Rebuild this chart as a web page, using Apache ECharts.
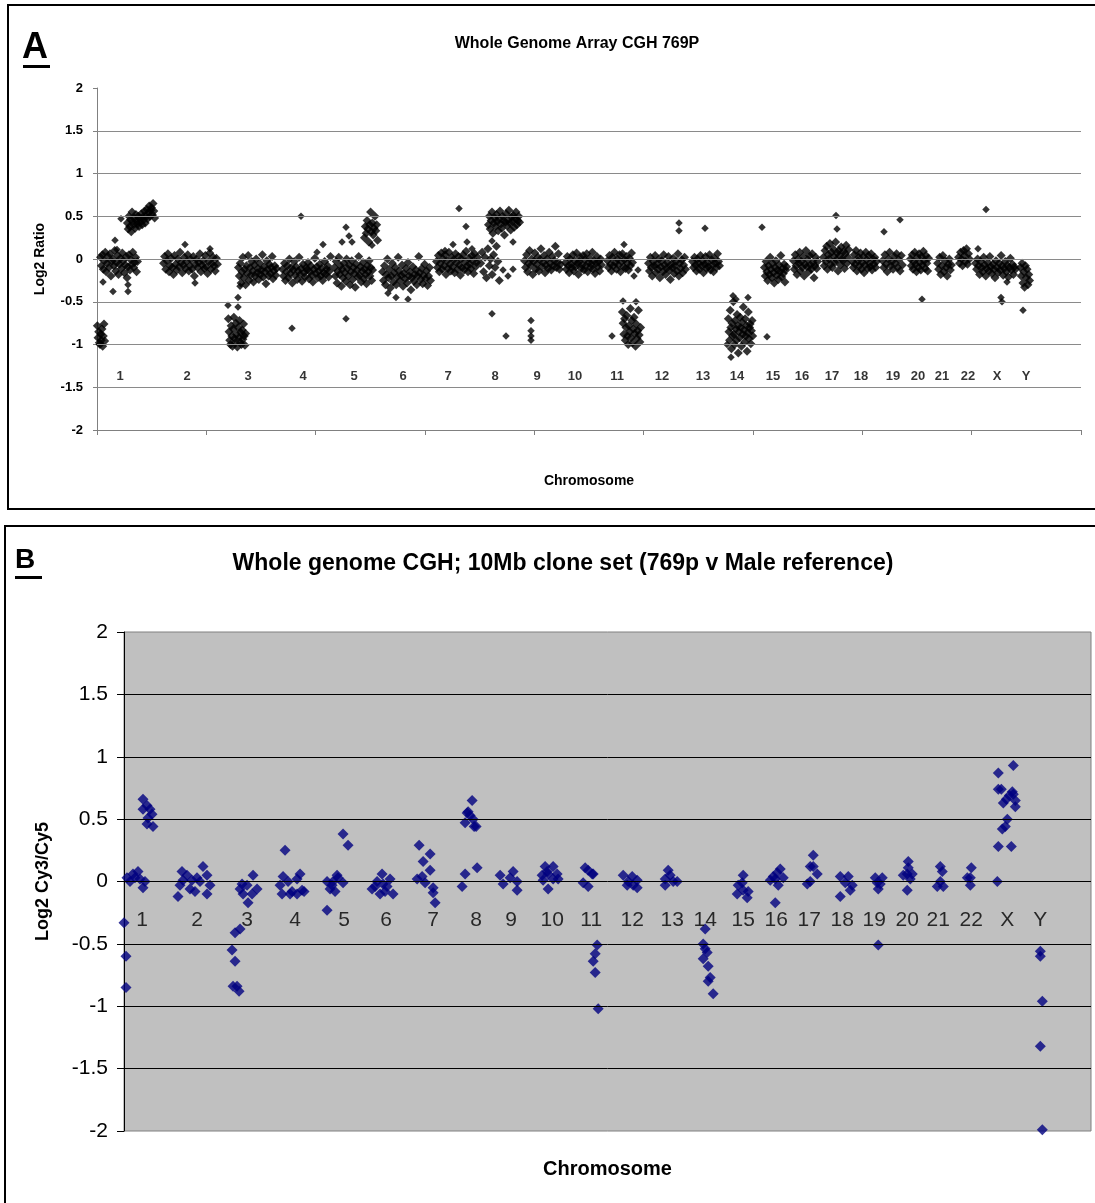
<!DOCTYPE html>
<html>
<head>
<meta charset="utf-8">
<title>Whole genome array CGH 769P</title>
<script src="https://cdn.jsdelivr.net/npm/echarts@6/dist/echarts.min.js"></script>
<style>
  html, body { margin: 0; padding: 0; background: #fff; }
  #chart { width: 1095px; height: 1203px; }
</style>
</head>
<body>
<div id="chart"></div>
<script>
// chromosome names and where their labels sit (genome position, Mb)
const chromNames = ['1','2','3','4','5','6','7','8','9','10','11','12','13','14','15','16','17','18','19','20','21','22','X','Y'];
const aLabelPos = [69,270,453,618,771,918,1053,1194,1320,1434,1560,1695,1818,1920,2028,2115,2205,2292,2388,2463,2535,2613,2700,2787];
const bLabelPos = [54,219,369,513,660,786,927,1056,1161,1284,1401,1524,1644,1743,1857,1956,2055,2154,2250,2349,2442,2541,2649,2748];
const aLabelRatio = -1.37;
const bLabelRatio = -0.31;
const gridLevels = [1.5, 1, 0.5, 0, -0.5, -1, -1.5];

// panel A: 1Mb array, clones listed in order along each segment (from..to, Mb)
const aSegFrom = [0, 9, 90, 198, 393, 423, 555, 711, 801, 855, 1017, 1149, 1173, 1281, 1404, 1530, 1575, 1653, 1785, 1893, 2001, 2088, 2178, 2265, 2355, 2439, 2520, 2583, 2634, 2769];
const aSegTo = [24, 123, 174, 363, 447, 540, 702, 828, 843, 1002, 1143, 1209, 1269, 1392, 1515, 1608, 1632, 1767, 1869, 1968, 2070, 2163, 2256, 2340, 2418, 2496, 2565, 2619, 2757, 2799];
const aSegRatios = [
  [-0.78,-0.92,-0.85,-0.98,-1.0,-0.88,-0.95,-0.82,-1.02,-0.9,-0.76,-0.96],
  [0.02,-0.08,0.05,-0.12,-0.02,0.08,-0.15,-0.05,0.03,-0.1,0.06,-0.2,-0.03,0.0,-0.08,0.1,-0.14,-0.04,0.04,-0.18,-0.06,0.01,-0.11,0.07,-0.02,-0.16,-0.07,0.03,-0.22,-0.09,0.05,-0.13,-0.01,-0.06,0.08,-0.1,-0.04,0.02,-0.15,-0.03],
  [0.42,0.35,0.5,0.38,0.46,0.32,0.55,0.44,0.4,0.48,0.36,0.52,0.45,0.41,0.5,0.38,0.47,0.43,0.53,0.4,0.49,0.46,0.56,0.42,0.5,0.58,0.47,0.54,0.62,0.5,0.57,0.6,0.52,0.65,0.56,0.48],
  [-0.05,0.03,-0.12,-0.02,0.06,-0.15,-0.08,0.01,-0.1,-0.18,0.04,-0.06,-0.13,0.0,-0.09,0.08,-0.04,-0.16,-0.07,0.02,-0.11,-0.03,0.05,-0.14,-0.08,-0.01,-0.12,0.03,-0.2,-0.06,0.0,-0.1,-0.04,0.06,-0.15,-0.07,-0.02,-0.11,0.04,-0.09,-0.17,-0.03,0.07,-0.12,-0.05,0.02,-0.08,-0.14,0.01,-0.06],
  [-0.7,-0.85,-0.95,-1.0,-0.78,-0.9,-1.02,-0.82,-0.68,-0.93,-0.98,-0.75,-0.88,-1.03,-0.8,-0.92,-0.72,-0.97,-0.86,-1.0,-0.83,-0.94,-0.76,-0.9,-1.01,-0.87],
  [-0.1,-0.2,-0.05,-0.28,-0.15,0.02,-0.22,-0.12,-0.3,-0.08,-0.17,0.04,-0.25,-0.1,-0.19,-0.03,-0.14,-0.27,-0.07,-0.2,0.0,-0.16,-0.11,-0.24,-0.05,-0.18,-0.13,0.05,-0.21,-0.09,-0.15,-0.29,-0.02,-0.12,-0.2,-0.06,-0.17,-0.1,0.03,-0.23,-0.14,-0.08,-0.19,-0.11],
  [-0.12,-0.2,-0.05,-0.25,-0.15,-0.08,-0.22,0.0,-0.17,-0.1,-0.28,-0.13,-0.03,-0.19,-0.09,-0.24,-0.14,0.02,-0.18,-0.11,-0.26,-0.06,-0.16,-0.21,-0.1,-0.13,-0.04,-0.23,-0.15,-0.08,-0.19,-0.27,-0.12,0.01,-0.17,-0.09,-0.22,-0.14,-0.06,-0.2,-0.11,-0.25,-0.16,-0.03,-0.18,-0.12,-0.08,-0.21,-0.14,0.03],
  [-0.1,-0.2,-0.03,-0.28,-0.14,0.02,-0.18,-0.08,-0.32,-0.12,-0.22,-0.05,-0.16,-0.26,0.0,-0.11,-0.2,-0.07,-0.3,-0.15,-0.02,-0.24,-0.1,-0.17,-0.33,-0.06,-0.13,-0.21,0.03,-0.19,-0.09,-0.27,-0.14,-0.04,-0.23,-0.12,-0.18,-0.29,-0.08,-0.15,-0.02,-0.2,-0.1,-0.25,-0.13],
  [0.25,0.38,0.3,0.45,0.35,0.2,0.4,0.55,0.32,0.42,0.28,0.36,0.5,0.33,0.4,0.22],
  [-0.15,-0.25,-0.08,-0.3,-0.18,0.0,-0.22,-0.12,-0.34,-0.2,-0.05,-0.27,-0.16,-0.1,-0.3,-0.21,0.02,-0.14,-0.25,-0.19,-0.07,-0.32,-0.17,-0.23,-0.11,-0.28,-0.04,-0.2,-0.15,-0.36,-0.22,-0.09,-0.26,-0.18,-0.13,-0.3,-0.2,0.03,-0.16,-0.24,-0.11,-0.29,-0.19,-0.06,-0.23,-0.14,-0.31,-0.2,-0.1,-0.25],
  [-0.03,-0.1,0.04,-0.15,-0.05,0.07,-0.12,0.0,-0.08,0.05,-0.18,-0.02,-0.11,0.08,-0.06,-0.14,0.02,-0.09,-0.01,-0.16,0.06,-0.04,-0.12,0.03,-0.07,-0.19,0.0,-0.1,0.05,-0.13,-0.03,0.09,-0.08,-0.15,0.01,-0.06,-0.11,0.04,-0.02,-0.17,0.06,-0.09,-0.04,0.02],
  [-0.05,0.08,-0.15,0.02,-0.22,0.12,-0.08,0.0,-0.18,0.05,-0.1,0.15,-0.03,-0.25],
  [0.4,0.5,0.35,0.45,0.55,0.3,0.42,0.48,0.38,0.52,0.44,0.33,0.47,0.56,0.41,0.36,0.5,0.45,0.28,0.43,0.53,0.39,0.46,0.57,0.42,0.34,0.49,0.44,0.51,0.37,0.47,0.55,0.4,0.45,0.5,0.43],
  [-0.02,-0.1,0.05,-0.15,-0.05,0.1,-0.08,0.0,-0.18,-0.03,0.07,-0.12,-0.06,0.02,-0.14,-0.01,0.12,-0.09,-0.04,0.04,-0.16,-0.07,0.0,-0.11,0.08,-0.05,-0.13,0.03,-0.08,-0.02,0.15,-0.1,-0.04,0.06,-0.12,-0.06],
  [-0.04,-0.12,0.03,-0.08,-0.16,0.0,-0.06,-0.1,0.05,-0.14,-0.02,-0.09,0.07,-0.05,-0.18,-0.03,0.02,-0.11,-0.07,0.04,-0.13,-0.01,-0.08,0.06,-0.15,-0.04,0.01,-0.1,-0.06,0.08,-0.12,-0.02,-0.17,-0.05,0.03,-0.09,-0.03,-0.14,0.0,-0.07],
  [-0.02,-0.1,0.04,-0.06,-0.14,0.02,-0.08,0.08,-0.04,-0.12,0.0,-0.07,0.05,-0.15,-0.03,0.06,-0.09,-0.01,-0.11,0.03,-0.05,-0.13,0.01,-0.08,0.07,-0.04],
  [-0.62,-0.75,-0.88,-0.7,-0.95,-0.8,-0.66,-0.9,-1.0,-0.78,-0.85,-0.58,-0.92,-0.72,-0.98,-0.82,-0.68,-0.87,-1.02,-0.76,-0.93,-0.84,-0.6,-0.89,-0.97,-0.8],
  [-0.05,-0.14,0.02,-0.1,-0.2,-0.03,-0.08,0.04,-0.16,-0.06,-0.12,0.0,-0.22,-0.09,-0.02,-0.15,0.05,-0.07,-0.18,-0.11,-0.04,0.03,-0.13,-0.24,-0.06,-0.1,0.01,-0.17,-0.08,-0.03,-0.14,0.06,-0.2,-0.05,-0.11,-0.01,-0.16,-0.07,0.02,-0.12],
  [-0.03,-0.1,0.02,-0.07,-0.14,0.0,-0.05,-0.12,0.04,-0.08,-0.02,-0.16,-0.06,0.03,-0.11,-0.04,-0.09,0.05,-0.13,-0.01,-0.07,-0.15,0.01,-0.05,-0.1,0.06,-0.03,-0.08],
  [-0.7,-0.85,-0.95,-0.6,-0.8,-1.05,-0.75,-0.9,-0.5,-0.88,-1.0,-0.72,-0.82,-0.95,-0.65,-0.78,-1.1,-0.85,-0.92,-0.68,-0.8,-1.02,-0.74,-0.88,-0.56,-0.83,-0.97,-0.7,-0.9,-0.78,-1.08,-0.86,-0.62,-0.93,-0.8,-0.76,-0.99,-0.84,-0.72,-0.9],
  [-0.1,-0.2,-0.03,-0.15,-0.25,-0.08,-0.18,0.02,-0.12,-0.22,-0.05,-0.16,-0.28,-0.1,-0.02,-0.19,-0.13,-0.24,-0.07,-0.15,0.04,-0.21,-0.11,-0.17,-0.06,-0.27,-0.13,-0.09],
  [-0.02,-0.12,0.05,-0.08,-0.18,0.0,-0.05,0.08,-0.14,-0.03,-0.1,0.03,-0.2,-0.06,0.1,-0.09,-0.01,-0.15,0.04,-0.07,-0.12,0.06,-0.04,-0.22,-0.08,0.02,-0.11,-0.03],
  [0.02,-0.08,0.1,-0.03,0.15,-0.12,0.05,0.0,0.18,-0.06,0.08,-0.1,0.12,0.03,-0.04,0.2,-0.01,0.07,-0.14,0.1,0.04,-0.07,0.14,0.0,-0.02,0.09,-0.11,0.06,0.16,-0.05,0.02,0.11],
  [-0.03,-0.1,0.05,-0.06,0.1,-0.14,-0.02,0.02,-0.08,0.07,-0.12,-0.04,0.03,-0.16,-0.07,0.08,-0.01,-0.11,0.04,-0.05,-0.09,0.06,-0.13,0.0,-0.06,0.02,-0.1,-0.03],
  [-0.02,-0.1,0.05,-0.06,-0.15,0.0,0.08,-0.08,-0.03,-0.12,0.03,-0.05,0.06,-0.1,-0.01,-0.14,0.04,-0.07],
  [0.0,-0.08,0.05,-0.12,-0.03,0.08,-0.06,-0.15,0.02,-0.1,0.06,-0.04,-0.13,0.03,-0.07,0.09,-0.02,-0.11,0.04,-0.05,-0.14,0.01],
  [-0.05,-0.12,0.02,-0.18,-0.08,0.04,-0.15,-0.02,-0.1,-0.2,-0.06,0.0,-0.13,-0.07],
  [0.02,-0.05,0.08,0.0,-0.08,0.1,0.04,-0.03,0.12,-0.06,0.06,0.0],
  [-0.05,-0.12,0.0,-0.08,-0.18,-0.03,-0.1,-0.15,0.02,-0.07,-0.2,-0.11,-0.04,-0.14,0.03,-0.09,-0.17,-0.06,-0.12,-0.22,-0.02,-0.1,-0.16,-0.05,-0.13,0.04,-0.08,-0.19,-0.11,-0.03,-0.15,-0.07,-0.21,-0.1,0.01,-0.13,-0.06,-0.18,-0.09,-0.12],
  [-0.1,-0.2,-0.05,-0.28,-0.15,-0.33,-0.08,-0.22,-0.12,-0.3,-0.18,-0.25]
];
// panel A: single clones away from the main clusters
const aOutPos = [18,48,93,93,54,60,72, 264,294,339, 393,423,423,429, 585,612,678,660, 747,735,747,756,765,825, 873,897,933, 1068,1110,1086,1107,1125,1044, 1185,1227,1185,1218,1233,1248,1248, 1302,1302,1302,1302, 1581,1623,1611,1545,1578,1617, 1746,1746, 1824, 1908,1917,1953,1902,1890,2010, 1995, 2217,2220, 2361,2409, 2475, 2643,2667,2712,2715,2730, 2778];
const aOutRatio = [-0.27,-0.38,-0.38,-0.3,0.22,0.11,0.47, 0.17,-0.28,0.12, -0.54,-0.56,-0.45,-0.32, -0.81,0.5,0.17,0.08, -0.7,0.2,0.37,0.27,0.2,0.16, -0.4,-0.45,-0.47, 0.17,0.2,0.59,0.38,0.12,0.1, -0.64,-0.9,0.21,-0.13,-0.2,-0.12,0.2, -0.72,-0.84,-0.9,-0.95, 0.17,-0.13,-0.2,-0.9,-0.49,-0.5, 0.42,0.33, 0.36, -0.43,-0.47,-0.45,-1.15,-1.0,-0.91, 0.37, 0.51,0.35, 0.32,0.46, -0.47, 0.12,0.58,-0.45,-0.5,-0.27, -0.6];

// panel B: 10Mb clone set, position (Mb) and log2 Cy3/Cy5
const bPos = [
  0,6,6,9,27,42,18,48,63,57,33,57,69,57,78,84,69,87,72,
  162,174,189,168,198,213,228,237,249,249,258,219,177,204,
  387,369,348,357,372,399,384,354,324,333,333,348,327,339,345,
  483,468,477,492,474,504,519,528,534,519,540,498,
  609,657,672,609,618,633,642,627,657,624,639,
  744,759,774,768,789,798,807,783,753,777,
  885,897,918,879,894,903,918,927,927,933,
  1014,1023,1059,1044,1032,1023,1047,1056,1038,1029,1050,
  1128,1137,1167,1158,1179,1179,
  1263,1287,1254,1272,1299,1257,1287,1272,1302,1269,
  1383,1404,1392,1377,1392,1407,1419,1413,1407,1413,1422,
  1497,1512,1527,1539,1509,1539,1524,
  1632,1623,1647,1623,1659,1638,
  1743,1737,1743,1737,1752,1758,1752,1767,1749,
  1857,1842,1839,1857,1869,1872,1854,
  1953,1938,1959,1968,1977,1962,1947,1953,
  2049,2058,2067,2058,2079,2067,
  2148,2172,2148,2178,2163,2184,
  2253,2274,2259,2262,2262,2268,
  2352,2352,2349,2364,2349,2337,2358,
  2448,2454,2448,2439,2457,
  2541,2538,2538,2529,
  2619,2622,2661,2634,2643,2649,2637,2646,2622,2631,2622,2667,2664,2673,2673,2655,2667,
  2748,2748,2754,2748,2754
];
const bRatio = [
  -0.33,-0.6,-0.85,0.03,0.06,0.08,0.0,0.02,0.0,-0.05,0.03,0.66,0.61,0.58,0.58,0.54,0.46,0.44,0.51,
  -0.12,0.08,0.05,-0.03,-0.06,-0.08,0.0,0.12,0.05,-0.1,-0.03,0.03,0.01,0.01,
  0.05,-0.03,-0.06,-0.1,-0.17,-0.06,-0.1,-0.02,-0.55,-0.64,-0.41,-0.38,-0.84,-0.84,-0.88,
  0.25,-0.03,0.04,0.0,-0.1,-0.08,0.02,0.06,-0.07,-0.1,-0.08,-0.1,
  -0.23,0.38,0.29,0.0,-0.06,-0.08,0.03,0.0,-0.01,-0.03,0.05,
  -0.06,0.0,0.06,-0.1,-0.04,0.02,-0.1,-0.08,-0.04,-0.02,
  0.29,0.16,0.22,0.02,0.04,-0.01,0.09,-0.05,-0.09,-0.17,
  -0.04,0.06,0.11,0.65,0.56,0.47,0.5,0.44,0.53,0.55,0.44,
  0.05,-0.02,0.08,0.03,0.0,-0.07,
  0.12,0.12,0.05,0.06,0.06,0.01,0.02,-0.06,0.02,0.08,
  0.11,0.06,0.09,-0.01,-0.04,0.06,-0.51,-0.58,-0.64,-0.73,-1.02,
  0.05,0.0,-0.03,0.01,-0.03,-0.05,0.04,
  0.09,0.02,0.0,-0.03,0.0,0.05,
  -0.38,-0.5,-0.54,-0.62,-0.68,-0.77,-0.8,-0.9,-0.57,
  0.05,-0.03,-0.1,-0.07,-0.13,-0.08,-0.01,
  -0.17,0.01,0.07,0.1,0.03,-0.03,0.04,0.02,
  -0.02,0.0,0.21,0.12,0.06,0.12,
  0.04,0.04,-0.12,-0.07,-0.01,-0.03,
  0.03,0.03,-0.01,-0.06,-0.51,-0.02,
  0.16,0.11,0.06,0.06,-0.07,0.05,0.02,
  0.12,0.08,0.0,-0.04,-0.04,
  0.11,0.03,-0.03,0.03,
  0.0,0.28,0.28,0.42,0.44,0.5,0.63,0.66,0.74,0.74,0.87,0.93,0.72,0.65,0.6,0.69,0.7,
  -0.56,-0.6,-0.96,-1.32,-1.99
];

const FONT = 'Liberation Sans, Arial, sans-serif';

// build point lists
const aCluster = [];
aSegRatios.forEach((ratios, s) => {
  const step = (aSegTo[s] - aSegFrom[s]) / ratios.length;
  ratios.forEach((r, i) => aCluster.push([aSegFrom[s] + (i + 0.5) * step, r]));
});
const aSingles = aOutPos.map((p, i) => [p, aOutRatio[i]]);
const bPoints = bPos.map((p, i) => [p, bRatio[i]]);

const aLabels = chromNames.map((n, i) => ({ name: n, value: [aLabelPos[i], aLabelRatio] }));
const bLabels = chromNames.map((n, i) => ({ name: n, value: [bLabelPos[i], bLabelRatio] }));

const myChart = echarts.init(document.getElementById('chart'), null, { renderer: 'canvas' });

const option = {
  animation: false,
  backgroundColor: '#fff',
  textStyle: { fontFamily: FONT },
  title: [
    {
      text: 'Whole Genome Array CGH 769P',
      left: 572, top: 31, textAlign: 'center',
      textStyle: { fontFamily: FONT, fontSize: 16, fontWeight: 'bold', color: '#000' }
    },
    {
      text: 'Whole genome CGH; 10Mb clone set (769p v Male reference)',
      left: 558, top: 547, textAlign: 'center',
      textStyle: { fontFamily: FONT, fontSize: 23, fontWeight: 'bold', color: '#000' }
    }
  ],
  graphic: [
    { type: 'rect', shape: { x: 8, y: 5, width: 1100, height: 504 }, style: { fill: 'none', stroke: '#000', lineWidth: 2 }, silent: true },
    { type: 'rect', shape: { x: 5, y: 526, width: 1100, height: 700 }, style: { fill: 'none', stroke: '#000', lineWidth: 2 }, silent: true },
    { type: 'text', left: 22, top: 30, style: { text: 'A', font: 'bold 36px ' + FONT, fill: '#000' } },
    { type: 'rect', shape: { x: 23, y: 65, width: 27, height: 3 }, style: { fill: '#000' } },
    { type: 'text', left: 15, top: 546, style: { text: 'B', font: 'bold 28px ' + FONT, fill: '#000' } },
    { type: 'rect', shape: { x: 15, y: 576, width: 27, height: 3 }, style: { fill: '#000' } }
  ],
  grid: [
    { left: 97, top: 88, width: 984, height: 342 },
    { left: 124, top: 632, width: 967, height: 499, show: true, backgroundColor: '#C0C0C0', borderColor: '#808080', borderWidth: 1 }
  ],
  xAxis: [
    {
      gridIndex: 0, type: 'value', min: 0, max: 2952, interval: 328,
      axisLine: { onZero: false, lineStyle: { color: '#808080' } },
      axisTick: { show: true, length: 5, lineStyle: { color: '#808080' } },
      axisLabel: { show: false }, splitLine: { show: false },
      name: 'Chromosome', nameLocation: 'middle', nameGap: 44,
      nameTextStyle: { fontFamily: FONT, fontSize: 14, fontWeight: 'bold', color: '#000' }
    },
    {
      gridIndex: 1, type: 'value', min: 0, max: 2900,
      axisLine: { show: false, onZero: false }, axisTick: { show: false },
      axisLabel: { show: false }, splitLine: { show: false },
      name: 'Chromosome', nameLocation: 'middle', nameGap: 28,
      nameTextStyle: { fontFamily: FONT, fontSize: 20, fontWeight: 'bold', color: '#000' }
    }
  ],
  yAxis: [
    {
      gridIndex: 0, type: 'value', min: -2, max: 2, interval: 0.5,
      axisLine: { show: true, onZero: false, lineStyle: { color: '#808080' } },
      axisTick: { show: true, length: 4, lineStyle: { color: '#808080' } },
      axisLabel: { margin: 14, fontFamily: FONT, fontSize: 13, fontWeight: 'bold', color: '#000' },
      splitLine: { show: false },
      name: 'Log2 Ratio', nameLocation: 'middle', nameGap: 50, nameRotate: 90,
      nameTextStyle: { fontFamily: FONT, fontSize: 14, fontWeight: 'bold', color: '#000' }
    },
    {
      gridIndex: 1, type: 'value', min: -2, max: 2, interval: 0.5,
      axisLine: { show: true, onZero: false, lineStyle: { color: '#000' } },
      axisTick: { show: true, length: 7, lineStyle: { color: '#000' } },
      axisLabel: { margin: 16, fontFamily: FONT, fontSize: 21, color: '#000' },
      splitLine: { show: false },
      name: 'Log2 Cy3/Cy5', nameLocation: 'middle', nameGap: 72, nameRotate: 90,
      nameTextStyle: { fontFamily: FONT, fontSize: 18, fontWeight: 'bold', color: '#000' }
    }
  ],
  series: [
    {
      type: 'line', xAxisIndex: 0, yAxisIndex: 0, data: [], z: 1, silent: true,
      markLine: {
        silent: true, symbol: ['none', 'none'], label: { show: false },
        lineStyle: { color: '#8a8a8a', width: 1, type: 'solid' },
        data: gridLevels.map(v => ({ yAxis: v }))
      }
    },
    {
      name: 'Whole Genome Array CGH 769P', type: 'scatter', xAxisIndex: 0, yAxisIndex: 0, z: 3,
      symbol: 'diamond', symbolSize: 9, itemStyle: { color: '#000' }, silent: true,
      data: aCluster
    },
    {
      name: 'Single clones', type: 'scatter', xAxisIndex: 0, yAxisIndex: 0, z: 3,
      symbol: 'diamond', symbolSize: 7.5, itemStyle: { color: '#000' }, silent: true,
      data: aSingles
    },
    {
      type: 'scatter', xAxisIndex: 0, yAxisIndex: 0, z: 4, silent: true,
      symbolSize: 0.1, itemStyle: { color: 'transparent' },
      label: { show: true, position: 'inside', formatter: p => p.name, fontFamily: FONT, fontSize: 13, fontWeight: 'bold', color: '#000' },
      data: aLabels
    },
    {
      type: 'line', xAxisIndex: 1, yAxisIndex: 1, data: [], z: 1, silent: true,
      markLine: {
        silent: true, symbol: ['none', 'none'], label: { show: false },
        lineStyle: { color: '#000', width: 1, type: 'solid' },
        data: gridLevels.map(v => ({ yAxis: v }))
      }
    },
    {
      name: '10Mb clone set', type: 'scatter', xAxisIndex: 1, yAxisIndex: 1, z: 3, clip: false,
      symbol: 'diamond', symbolSize: 11, itemStyle: { color: '#000080' }, silent: true,
      data: bPoints
    },
    {
      type: 'scatter', xAxisIndex: 1, yAxisIndex: 1, z: 4, silent: true,
      symbolSize: 0.1, itemStyle: { color: 'transparent' },
      label: { show: true, position: 'inside', formatter: p => p.name, fontFamily: FONT, fontSize: 21, color: '#000' },
      data: bLabels
    }
  ]
};
myChart.setOption(option);
</script>
</body>
</html>
